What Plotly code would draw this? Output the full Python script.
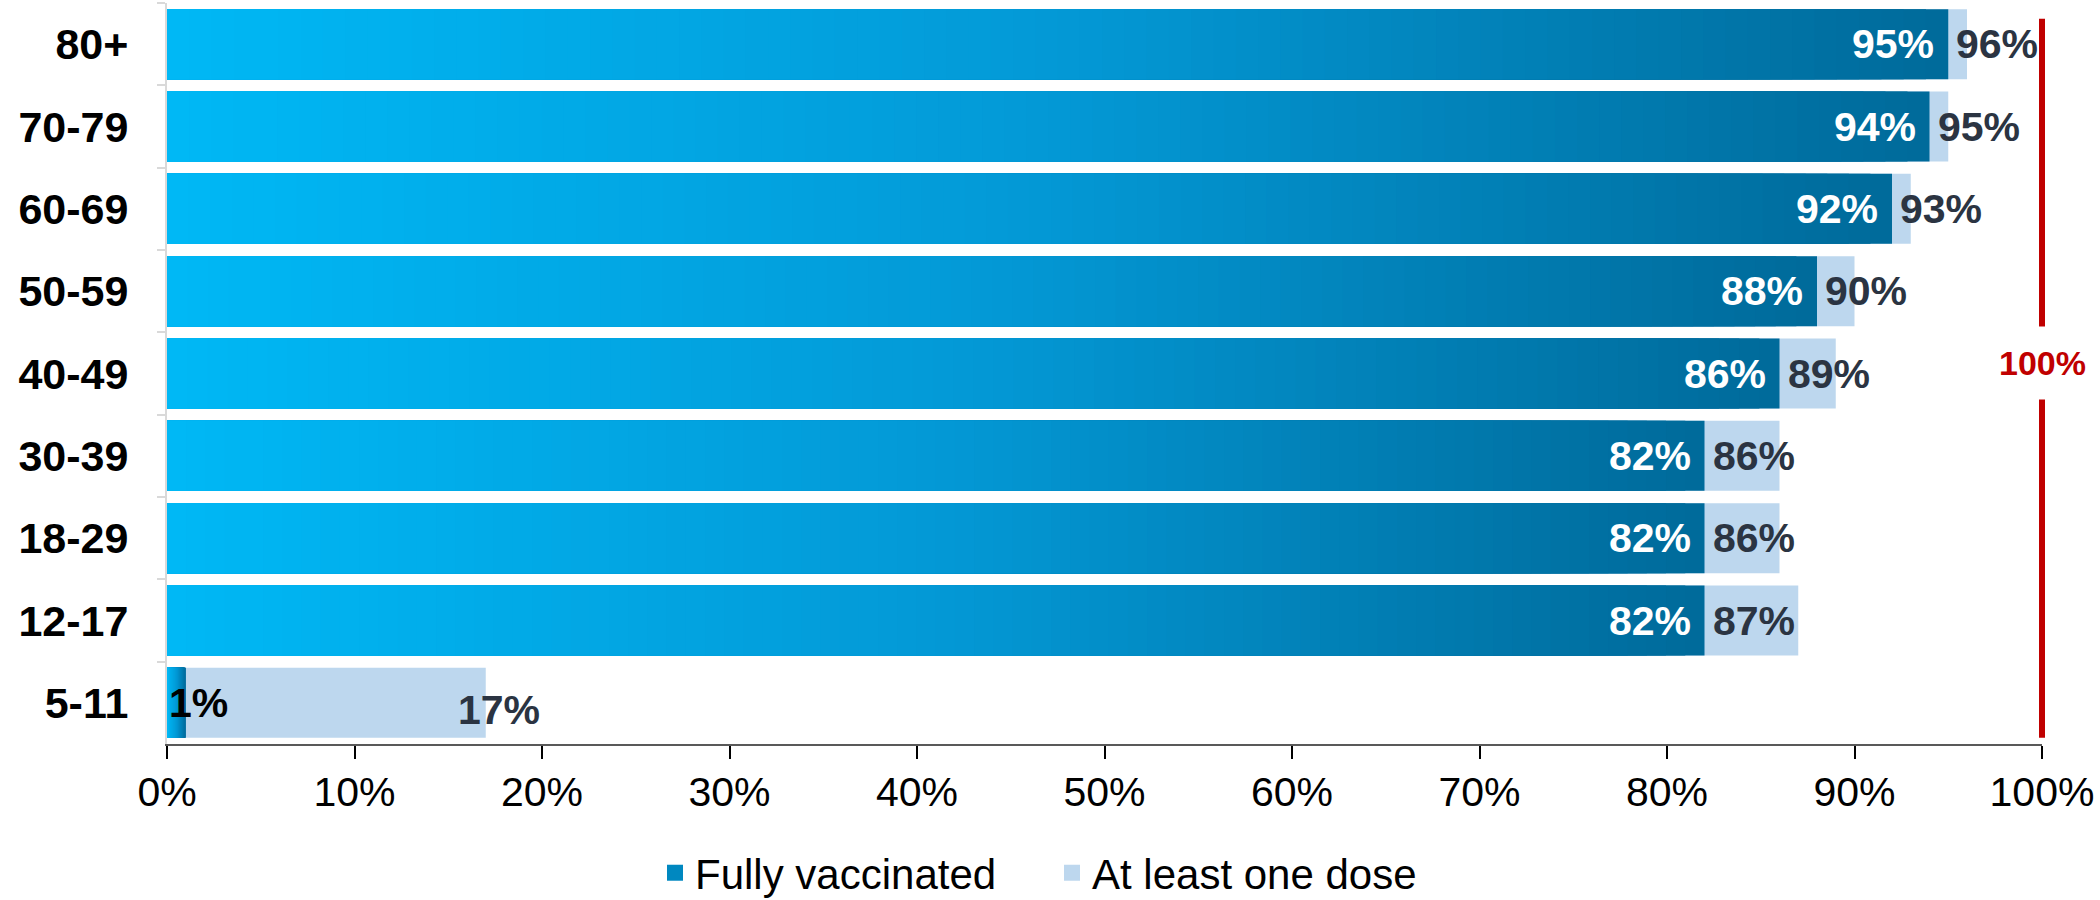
import plotly.graph_objects as go

# ---- data ----
age_groups = ["80+", "70-79", "60-69", "50-59", "40-49", "30-39", "18-29", "12-17", "5-11"]
fully_vaccinated = [95, 94, 92, 88, 86, 82, 82, 82, 1]
at_least_one_dose = [96, 95, 93, 90, 89, 86, 86, 87, 17]
x_ticks = [0, 10, 20, 30, 40, 50, 60, 70, 80, 90, 100]
target_pct = 100

FONT = "Arial, 'Liberation Sans', sans-serif"
LIGHT = "#BDD7EE"
DARK_TXT = "#2B3442"
RED = "#C00000"
grad_stops = [(0.0, (0, 184, 245)), (0.5, (3, 153, 214)), (1.0, (0, 106, 154))]


def grad_color(t):
    for (t0, c0), (t1, c1) in zip(grad_stops[:-1], grad_stops[1:]):
        if t <= t1:
            f = (t - t0) / (t1 - t0)
            c = [round(a + (b - a) * f) for a, b in zip(c0, c1)]
            return "rgb(%d,%d,%d)" % tuple(c)
    return "rgb(%d,%d,%d)" % grad_stops[-1][1]


fig = go.Figure()

# light bars (at least one dose)
fig.add_trace(go.Bar(
    x=at_least_one_dose, y=age_groups, orientation="h",
    marker=dict(color=LIGHT, line=dict(width=0)),
    name="At least one dose", showlegend=False, hoverinfo="skip",
))

# gradient bars (fully vaccinated), drawn as nested bars from long to short
N = 80
gx, gy, gc = [], [], []
for k in range(N, 0, -1):
    for cat, v in zip(age_groups, fully_vaccinated):
        gx.append(v * k / N)
        gy.append(cat)
        gc.append(grad_color((k - 0.5) / N))
fig.add_trace(go.Bar(
    x=gx, y=gy, orientation="h",
    marker=dict(color=gc, line=dict(width=0)),
    name="Fully vaccinated", showlegend=False, hoverinfo="skip",
))

# legend entries
fig.add_trace(go.Scatter(x=[None], y=[None], mode="markers", name="Fully vaccinated",
                         marker=dict(symbol="square", size=16, color="#0088C0", line=dict(width=0))))
fig.add_trace(go.Scatter(x=[None], y=[None], mode="markers", name="At least one dose",
                         marker=dict(symbol="square", size=16, color=LIGHT, line=dict(width=0))))

# value labels
for cat, f, a in zip(age_groups, fully_vaccinated, at_least_one_dose):
    if f >= 5:
        fig.add_annotation(x=f, y=cat, text="<b>%d%%</b>" % f, showarrow=False,
                           xanchor="right", xshift=-12,
                           font=dict(family=FONT, size=41, color="white"))
    else:
        fig.add_annotation(x=0, y=cat, text="<b>%d%%</b>" % f, showarrow=False,
                           xanchor="left", xshift=0,
                           font=dict(family=FONT, size=41, color="black"))
    if a - f > 10:
        fig.add_annotation(x=a, y=cat, text="<b>%d%%</b>" % a, showarrow=False,
                           xanchor="center", xshift=13, yshift=-7,
                           font=dict(family=FONT, size=41, color=DARK_TXT))
    else:
        fig.add_annotation(x=f, y=cat, text="<b>%d%%</b>" % a, showarrow=False,
                           xanchor="left", xshift=6,
                           font=dict(family=FONT, size=41, color=DARK_TXT))

# 100% target line (paper coords so it is not clipped at the plot edge)
n = len(age_groups)


def cat_to_paper(v):
    # y axis is reversed with range [n-0.5, -0.5]
    return (n - 0.5 - v) / n


fig.add_shape(type="line", xref="paper", yref="paper", x0=1, x1=1,
              y0=cat_to_paper(-0.31), y1=cat_to_paper(n - 0.575),
              line=dict(color=RED, width=6), layer="above")
fig.add_annotation(x=target_pct, y=3.87, text="<b>%d%%</b>" % target_pct, showarrow=False,
                   xanchor="center", bgcolor="white", borderpad=17,
                   font=dict(family=FONT, size=34, color=RED))

fig.update_layout(
    width=2100, height=900,
    margin=dict(l=167, r=58, t=3, b=156, autoexpand=False),
    plot_bgcolor="white", paper_bgcolor="white",
    barmode="overlay", bargap=0.15,
    font=dict(family=FONT, color="black"),
    legend=dict(orientation="h", x=0.472, xanchor="center", y=-0.174, yanchor="middle",
                font=dict(family=FONT, size=42, color="black"),
                traceorder="normal", itemwidth=30,
                entrywidth=352, entrywidthmode="pixels"),
    showlegend=True,
)
fig.update_xaxes(
    range=[0, 100], tickvals=x_ticks, ticktext=["%d%%" % v for v in x_ticks],
    showgrid=False, zeroline=False,
    showline=True, linecolor="#595959", linewidth=2,
    ticks="outside", ticklen=13, tickwidth=2, tickcolor="black",
    tickfont=dict(family=FONT, size=41, color="black"),
    ticklabelstandoff=-2,
)
fig.update_yaxes(
    categoryorder="array", categoryarray=age_groups, autorange="reversed",
    showgrid=False, zeroline=False,
    showline=True, linecolor="#D9D9D9", linewidth=2,
    ticks="outside", tickson="boundaries", ticklen=8, tickwidth=2, tickcolor="#D9D9D9",
    tickfont=dict(family=FONT, size=43, color="black"),
    ticklabelstandoff=28,
    tickprefix="<b>", ticksuffix="</b>",
)

fig.write_html("out.html")
